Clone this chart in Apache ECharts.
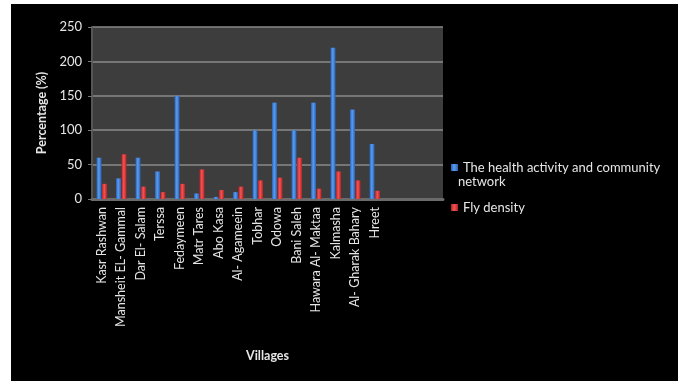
<!DOCTYPE html>
<html>
<head>
<meta charset="utf-8">
<script src="https://cdn.jsdelivr.net/npm/echarts@6/dist/echarts.min.js"></script>
<style>
  html, body { margin: 0; padding: 0; background: #fff; }
  #frame { position: absolute; left: 11px; top: 4px; width: 667px; height: 377px; background: #000; }
  #chart { position: absolute; left: -11px; top: -4px; width: 678px; height: 381px; }
</style>
</head>
<body>
<div id="frame"><div id="chart"></div></div>
<script>
// Villages, plus three empty slots the source sheet left at the end of the axis.
const villages = [
  'Kasr Rashwan', 'Mansheit EL- Gammal', 'Dar El- Salam', 'Terssa', 'Fedaymeen',
  'Matr Tares', 'Abo Kasa', 'Al- Agameein', 'Tobhar', 'Odowa', 'Bani Saleh',
  'Hawara Al- Maktaa', 'Kalmasha', 'Al- Gharak Bahary', 'Hreet', '', '', '',
];
const healthNetwork = [60, 30, 60, 40, 150, 8, 3, 10, 100, 140, 100, 140, 220, 130, 80, null, null, null];
const flyDensity = [22, 65, 18, 10, 22, 43, 13, 18, 27, 31, 60, 15, 40, 27, 12, null, null, null];
const yTicks = { min: 0, max: 250, interval: 50 };

const FONT = 'Lato, "Open Sans", sans-serif';
const TEXT = '#e6e6e6';
const HEALTH = 'The health activity and community network';

// Cylinder-ish shading so bars read like the old 3D column look.
const shade = (edge, mid) => new echarts.graphic.LinearGradient(0, 0, 1, 0, [
  { offset: 0, color: edge },
  { offset: 0.45, color: mid },
  { offset: 1, color: edge },
]);

const chart = echarts.init(document.getElementById('chart'), null, { renderer: 'canvas' });
chart.setOption({
  animation: false,
  backgroundColor: 'transparent',
  textStyle: { fontFamily: FONT },
  grid: {
    left: 92, right: 235, top: 27, bottom: 182,
    show: true, backgroundColor: '#3d3d3d', borderWidth: 0,
  },
  legend: {
    orient: 'vertical',
    left: 446, top: 156,
    itemWidth: 7, itemHeight: 7, itemGap: 27,
    icon: 'rect',
    textStyle: { color: TEXT, fontSize: 13, fontFamily: FONT },
    // Legend wraps the long name; the second line is set below as graphic text
    // so the swatch stays on the first line like the original.
    formatter: (name) => name === HEALTH ? 'The health activity and community' : name,
    data: [HEALTH, 'Fly density'],
  },
  graphic: [{
    type: 'text', left: 458, top: 175,
    style: { text: 'network', fill: TEXT, fontSize: 13, fontFamily: FONT },
  }],
  xAxis: {
    type: 'category',
    data: villages,
    name: 'Villages',
    nameLocation: 'middle',
    nameGap: 150,
    nameTextStyle: { color: TEXT, fontWeight: 'bold', fontSize: 12.5, fontFamily: FONT },
    axisLine: { lineStyle: { color: '#6b6b6b', width: 3 } },
    axisTick: { show: false },
    axisLabel: { color: TEXT, rotate: 90, interval: 0, fontSize: 12.5, margin: 8, fontFamily: FONT },
  },
  yAxis: {
    type: 'value',
    ...yTicks,
    name: 'Percentage (%)',
    nameLocation: 'middle',
    nameGap: 36,
    nameTextStyle: { color: TEXT, fontWeight: 'bold', fontSize: 12.5, fontFamily: FONT },
    axisLine: { show: true, lineStyle: { color: '#555', width: 2 } },
    axisTick: { show: true, length: 4, lineStyle: { color: '#777' } },
    axisLabel: { color: TEXT, fontSize: 13, margin: 10, fontFamily: FONT },
    splitLine: { lineStyle: { color: '#8a8a8a', width: 1.5 } },
  },
  series: [
    {
      name: HEALTH,
      type: 'bar',
      data: healthNetwork,
      barWidth: 5,
      barGap: '10%',
      itemStyle: { color: shade('#2561b8', '#5d9cec') },
    },
    {
      name: 'Fly density',
      type: 'bar',
      data: flyDensity,
      barWidth: 5,
      itemStyle: { color: shade('#b52222', '#f25555') },
    },
  ],
});
</script>
</body>
</html>
